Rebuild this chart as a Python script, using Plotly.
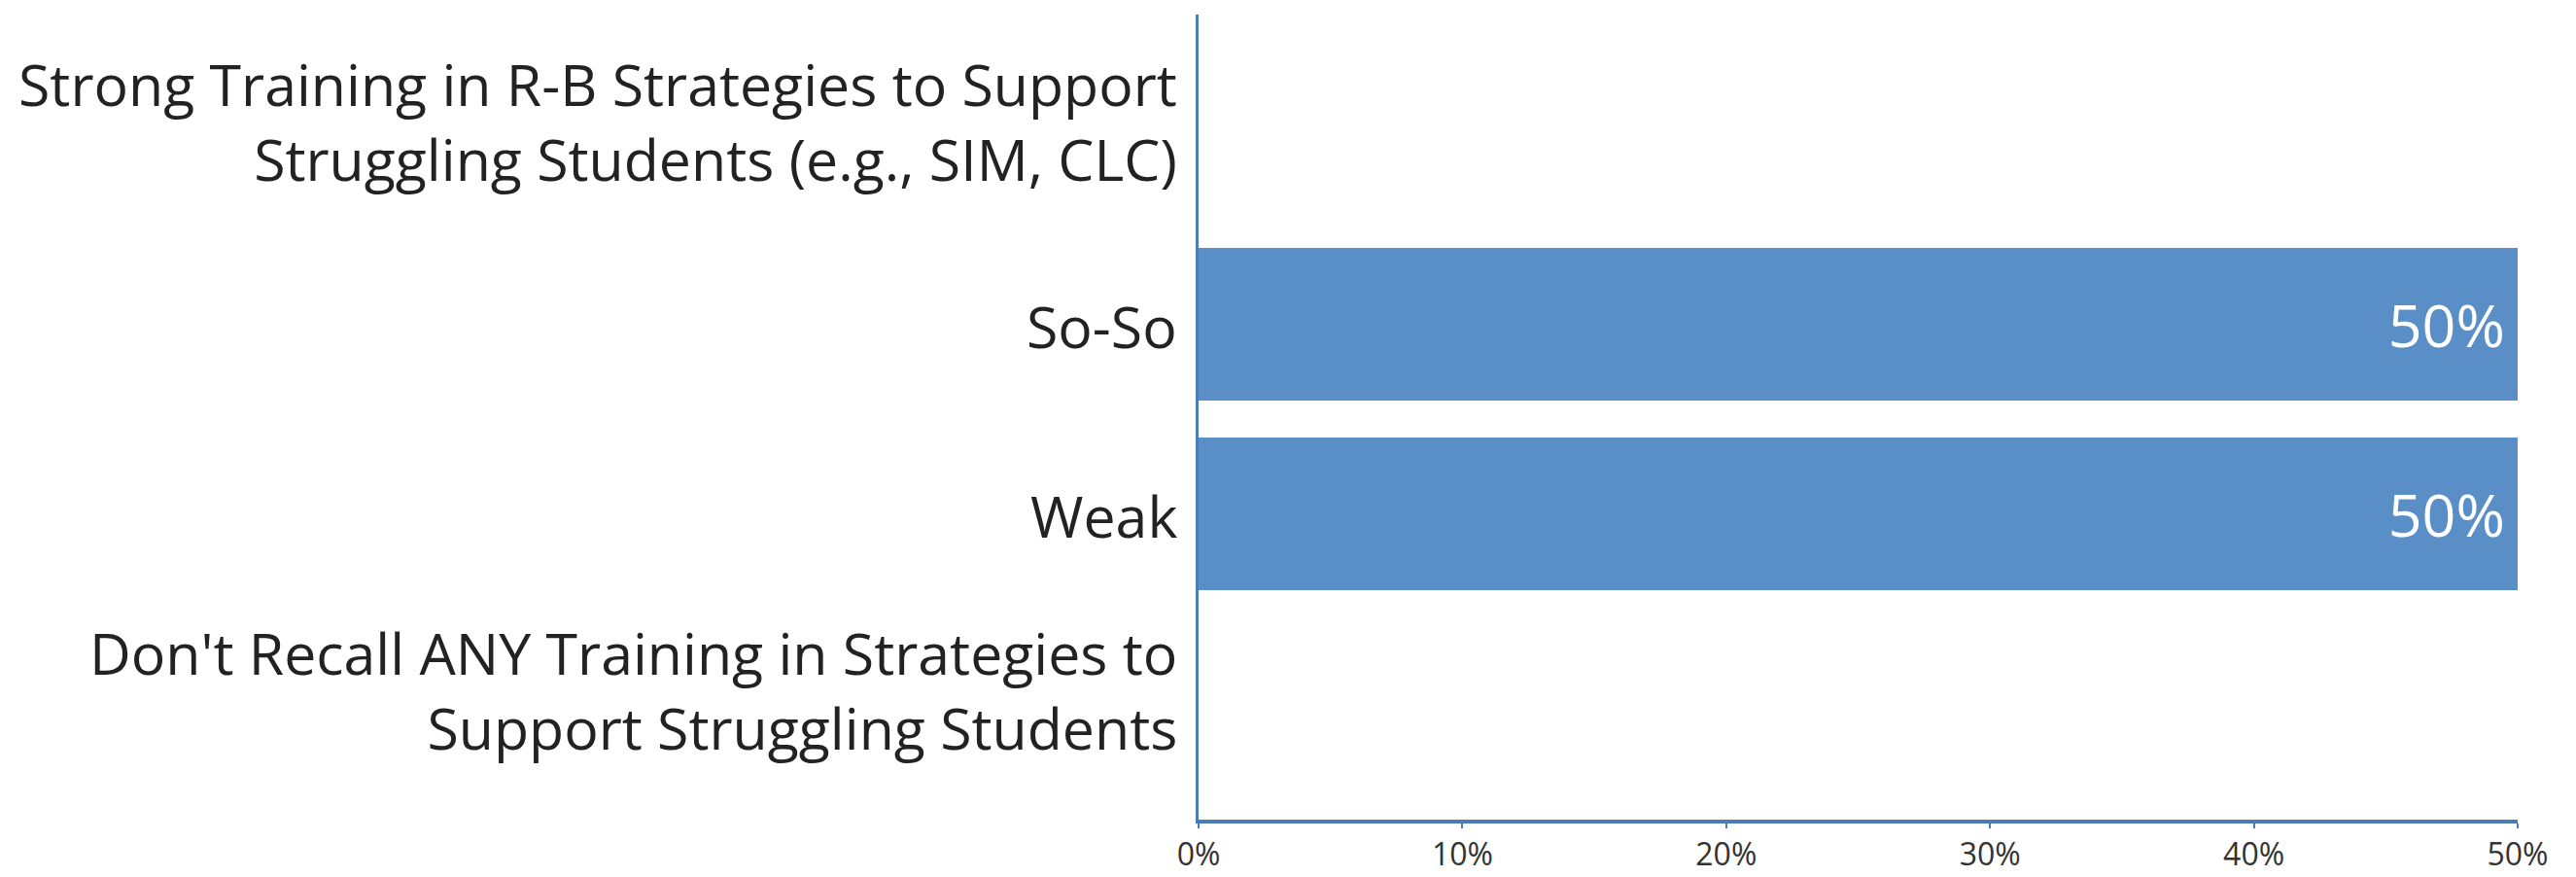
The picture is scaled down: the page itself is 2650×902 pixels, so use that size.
import plotly.graph_objects as go

# Categories listed bottom-to-top so the first one sits at the bottom of the axis
categories = [
    "Don't Recall ANY Training in Strategies to<br>Support Struggling Students",
    "Weak",
    "So-So",
    "Strong Training in R-B Strategies to Support<br>Struggling Students (e.g., SIM, CLC)",
]
shares = [0.0, 0.5, 0.5, 0.0]
bar_labels = ["", "50%", "50%", ""]

x_ticks = [0, 0.1, 0.2, 0.3, 0.4, 0.5]
x_tick_labels = ["0%", "10%", "20%", "30%", "40%", "50%"]

bar_color = "#5A8EC7"
axis_color = "#4A7DB5"
label_font = dict(family="Open Sans", size=59, color="#222222")

fig = go.Figure(
    go.Bar(
        x=shares,
        y=categories,
        orientation="h",
        marker=dict(color=bar_color, line=dict(width=0)),
        text=bar_labels,
        texttemplate="%{text}\u2009",
        textposition="inside",
        insidetextanchor="end",
        textfont=dict(family="Open Sans", size=61, color="white"),
        hoverinfo="skip",
    )
)

# Category labels drawn as right-aligned annotations beside the y axis;
# wrapped labels sit a little above their category centre.
for cat in categories:
    wrapped = "<br>" in cat
    fig.add_annotation(
        x=0,
        xref="paper",
        y=cat,
        yref="y",
        text=cat,
        align="right",
        showarrow=False,
        xanchor="right",
        yanchor="middle",
        xshift=-20,
        yshift=14 if wrapped else -2,
        font=label_font,
    )

fig.update_layout(
    width=2650,
    height=902,
    margin=dict(l=1233, r=60, t=15, b=59),
    plot_bgcolor="white",
    paper_bgcolor="white",
    bargap=0.195,
    showlegend=False,
)

fig.update_xaxes(
    range=[0, 0.5],
    tickvals=x_ticks,
    ticktext=x_tick_labels,
    automargin=False,
    showgrid=False,
    zeroline=False,
    showline=True,
    linecolor=axis_color,
    linewidth=4,
    ticks="outside",
    ticklen=5,
    tickwidth=2,
    tickcolor=axis_color,
    tickfont=dict(family="Open Sans", size=32, color="#333333"),
)

fig.update_yaxes(
    type="category",
    categoryorder="array",
    categoryarray=categories,
    range=[-0.613, 3.633],
    automargin=False,
    showgrid=False,
    zeroline=False,
    showline=True,
    linecolor=axis_color,
    linewidth=3,
    ticks="",
    showticklabels=False,
)

fig.write_html("out.html")
